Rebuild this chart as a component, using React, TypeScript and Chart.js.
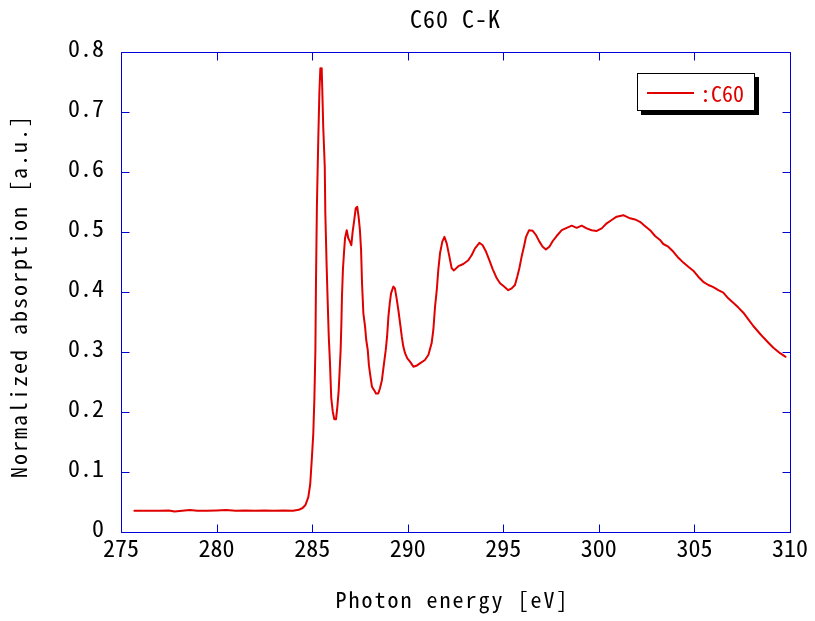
import { useEffect, useRef } from 'react';
import { Chart, registerables } from 'chart.js';

Chart.register(...registerables);

const energy = [
  275.7, 276.5, 277.0, 277.5, 277.8, 278.2, 278.6, 279.0, 279.5, 280.0,
  280.5, 281.0, 281.5, 282.0, 282.5, 283.0, 283.5, 284.0, 284.3, 284.5,
  284.65, 284.8, 284.9, 284.99, 285.06, 285.12, 285.17, 285.2, 285.25, 285.32,
  285.38, 285.43, 285.47, 285.5, 285.53, 285.58, 285.66, 285.69, 285.76, 285.81,
  285.87, 285.93, 286.0, 286.08, 286.16, 286.25, 286.32, 286.39, 286.44, 286.49,
  286.53, 286.56, 286.61, 286.67, 286.72, 286.81, 286.89, 286.98, 287.05, 287.12,
  287.19, 287.28, 287.36, 287.43, 287.5, 287.56, 287.61, 287.68, 287.77, 287.83,
  287.91, 287.97, 288.04, 288.13, 288.24, 288.34, 288.46, 288.55, 288.65, 288.76,
  288.85, 288.92, 288.99, 289.06, 289.13, 289.25, 289.33, 289.42, 289.51, 289.6,
  289.69, 289.77, 289.86, 289.98, 290.12, 290.3, 290.45, 290.64, 290.9, 291.08,
  291.25, 291.34, 291.43, 291.52, 291.6, 291.69, 291.81, 291.92, 292.04, 292.18,
  292.3, 292.42, 292.65, 292.91, 293.17, 293.35, 293.52, 293.75, 293.92, 294.1,
  294.27, 294.45, 294.66, 294.83, 295.04, 295.26, 295.44, 295.61, 295.73, 295.84,
  295.96, 296.08, 296.19, 296.35, 296.54, 296.71, 296.89, 297.06, 297.23, 297.41,
  297.59, 297.79, 298.06, 298.32, 298.58, 298.84, 299.1, 299.36, 299.62, 299.89,
  300.15, 300.41, 300.67, 300.93, 301.28, 301.63, 301.89, 302.15, 302.41, 302.68,
  302.94, 303.2, 303.37, 303.63, 303.9, 304.16, 304.42, 304.68, 304.94, 305.2,
  305.46, 305.73, 305.99, 306.25, 306.51, 306.77, 307.03, 307.3, 307.56, 307.82,
  308.08, 308.34, 308.6, 308.87, 309.13, 309.48, 309.77,
];

const absorption = [
  0.0355, 0.0355, 0.0355, 0.036, 0.034, 0.0355, 0.0365, 0.0355, 0.0355, 0.036,
  0.0365, 0.0355, 0.036, 0.0355, 0.036, 0.0355, 0.036, 0.0355, 0.037, 0.04,
  0.045, 0.058, 0.08, 0.1255, 0.164, 0.2255, 0.303, 0.4145, 0.545, 0.653,
  0.734, 0.773, 0.755, 0.773, 0.737, 0.6755, 0.609, 0.531, 0.442, 0.387,
  0.3255, 0.284, 0.223, 0.2005, 0.188, 0.188, 0.209, 0.2365, 0.27, 0.303,
  0.348, 0.392, 0.437, 0.467, 0.4895, 0.503, 0.4895, 0.484, 0.478, 0.5005,
  0.517, 0.5395, 0.542, 0.5255, 0.503, 0.47, 0.4145, 0.3645, 0.342, 0.32,
  0.303, 0.278, 0.2615, 0.242, 0.2365, 0.231, 0.231, 0.2395, 0.253, 0.281,
  0.303, 0.3255, 0.359, 0.381, 0.398, 0.409, 0.406, 0.3895, 0.37, 0.348,
  0.3255, 0.309, 0.298, 0.2895, 0.284, 0.2755, 0.277, 0.281, 0.2867, 0.295,
  0.3145, 0.3367, 0.3755, 0.403, 0.437, 0.4645, 0.484, 0.492, 0.481, 0.459,
  0.4395, 0.436, 0.443, 0.4467, 0.453, 0.4617, 0.4728, 0.482, 0.478, 0.467,
  0.453, 0.4378, 0.4228, 0.4145, 0.409, 0.403, 0.406, 0.4117, 0.4255, 0.4395,
  0.459, 0.4755, 0.492, 0.503, 0.502, 0.495, 0.484, 0.4755, 0.471, 0.4755,
  0.485, 0.4933, 0.503, 0.507, 0.5105, 0.507, 0.5105, 0.506, 0.503, 0.5017,
  0.506, 0.5145, 0.52, 0.5255, 0.528, 0.5228, 0.521, 0.517, 0.51, 0.503,
  0.4933, 0.4867, 0.48, 0.4755, 0.467, 0.457, 0.449, 0.442, 0.4355, 0.4255,
  0.417, 0.4117, 0.408, 0.403, 0.399, 0.3895, 0.382, 0.374, 0.3655, 0.3545,
  0.3433, 0.3338, 0.3245, 0.3155, 0.307, 0.298, 0.292,
];

const xTicks = [275, 280, 285, 290, 295, 300, 305, 310];
const yTicks = [0, 0.1, 0.2, 0.3, 0.4, 0.5, 0.6, 0.7, 0.8];

const chartTitle = 'C60 C-K';
const xTitle = 'Photon energy [eV]';
const yTitle = 'Normalized absorption [a.u.]';
const seriesLabel = ':C60';

const RED = '#e00000';
const BLUE = '#0000d8';
const MONO = '"Noto Sans Mono CJK JP", "Noto Sans CJK JP", "DejaVu Sans Mono", monospace';

const framePlugin = {
  id: 'frameAndText',
  afterDraw(chart: any) {
    const { ctx, chartArea: a, scales } = chart;
    const xs = scales.x;
    const ys = scales.y;
    ctx.save();
    // frame
    ctx.strokeStyle = BLUE;
    ctx.lineWidth = 1;
    ctx.setLineDash([]);
    const L = Math.round(a.left) + 0.5;
    const R = Math.round(a.right) + 0.5;
    const T = Math.round(a.top) + 0.5;
    const B = Math.round(a.bottom) + 0.5;
    ctx.beginPath();
    ctx.rect(L, T, R - L, B - T);
    ctx.stroke();
    const tl = 8;
    ctx.beginPath();
    xTicks.forEach((v) => {
      const px = Math.round(xs.getPixelForValue(v)) + 0.5;
      ctx.moveTo(px, B);
      ctx.lineTo(px, B - tl);
      ctx.moveTo(px, T);
      ctx.lineTo(px, T + tl);
    });
    yTicks.forEach((v) => {
      const py = Math.round(ys.getPixelForValue(v)) + 0.5;
      ctx.moveTo(L, py);
      ctx.lineTo(L + tl, py);
      ctx.moveTo(R, py);
      ctx.lineTo(R - tl, py);
    });
    ctx.stroke();

    // titles
    const cx = (a.left + a.right) / 2;
    const cy = (a.top + a.bottom) / 2;
    ctx.fillStyle = '#000';
    ctx.textAlign = 'center';
    ctx.textBaseline = 'alphabetic';
    ctx.font = `24px ${MONO}`;
    (ctx as any).letterSpacing = '1px';
    ctx.fillText(chartTitle, cx, 28);
    ctx.font = `22px ${MONO}`;
    (ctx as any).letterSpacing = '2px';
    ctx.fillText(xTitle, cx - 3, 608);
    ctx.save();
    ctx.translate(27, cy + 4);
    ctx.rotate(-Math.PI / 2);
    ctx.fillText(yTitle, 0, 0);
    ctx.restore();

    // legend
    const lx = 637, ly = 73, lw = 118, lh = 38;
    ctx.fillStyle = '#000';
    ctx.fillRect(lx + 4, ly + 4, lw, lh);
    ctx.fillStyle = '#fff';
    ctx.fillRect(lx, ly, lw, lh);
    ctx.strokeStyle = '#000';
    ctx.lineWidth = 1;
    ctx.strokeRect(lx + 0.5, ly + 0.5, lw - 1, lh - 1);
    ctx.strokeStyle = RED;
    ctx.lineWidth = 2;
    ctx.beginPath();
    ctx.moveTo(647, 93);
    ctx.lineTo(694, 93);
    ctx.stroke();
    ctx.fillStyle = RED;
    ctx.textAlign = 'left';
    ctx.textBaseline = 'middle';
    ctx.font = `22px ${MONO}`;
    (ctx as any).letterSpacing = '0px';
    ctx.fillText(chart.data.datasets[0].label, 700, 94);
    ctx.restore();
  },
};

export default function App() {
  const ref = useRef<HTMLCanvasElement | null>(null);

  useEffect(() => {
    document.body.style.margin = '0';
    const canvas = ref.current;
    if (!canvas) return;
    const points = energy.map((e, i) => ({ x: e, y: absorption[i] }));
    const chart = new Chart(canvas, {
      type: 'line',
      data: {
        datasets: [
          {
            label: seriesLabel,
            data: points,
            borderColor: RED,
            backgroundColor: RED,
            borderWidth: 2,
            borderJoinStyle: 'round',
            borderCapStyle: 'round',
            // a single very long dash: visually solid, and draws every vertex
            borderDash: [100000, 1],
            pointRadius: 0,
            tension: 0,
            fill: false,
          },
        ],
      },
      options: {
        animation: false,
        responsive: false,
        devicePixelRatio: 1,
        layout: { padding: { left: 0, right: 25, top: 52, bottom: 0 } },
        plugins: {
          legend: { display: false },
          title: { display: false },
          tooltip: { enabled: false },
        },
        scales: {
          x: {
            type: 'linear',
            min: 275,
            max: 310,
            afterBuildTicks: (s: any) => {
              s.ticks = xTicks.map((v) => ({ value: v }));
            },
            afterFit: (s: any) => {
              s.height = 89;
            },
            grid: { display: false, drawTicks: false },
            border: { display: false },
            ticks: {
              color: '#000',
              padding: 1,
              maxRotation: 0,
              autoSkip: false,
              font: { family: MONO, size: 24 },
              callback: (v: any) => String(v),
            },
          },
          y: {
            type: 'linear',
            min: 0,
            max: 0.8,
            afterBuildTicks: (s: any) => {
              s.ticks = yTicks.map((v) => ({ value: v }));
            },
            afterFit: (s: any) => {
              s.width = 121;
            },
            grid: { display: false, drawTicks: false },
            border: { display: false },
            ticks: {
              color: '#000',
              padding: 17,
              autoSkip: false,
              font: { family: MONO, size: 24, lineHeight: '9px' },
              callback: (v: any) => [v === 0 ? '0' : Number(v).toFixed(1), ''],
            },
          },
        },
      },
      plugins: [framePlugin],
    });
    return () => chart.destroy();
  }, []);

  return <canvas ref={ref} width={815} height={621} style={{ display: 'block', width: 815, height: 621 }} />;
}
